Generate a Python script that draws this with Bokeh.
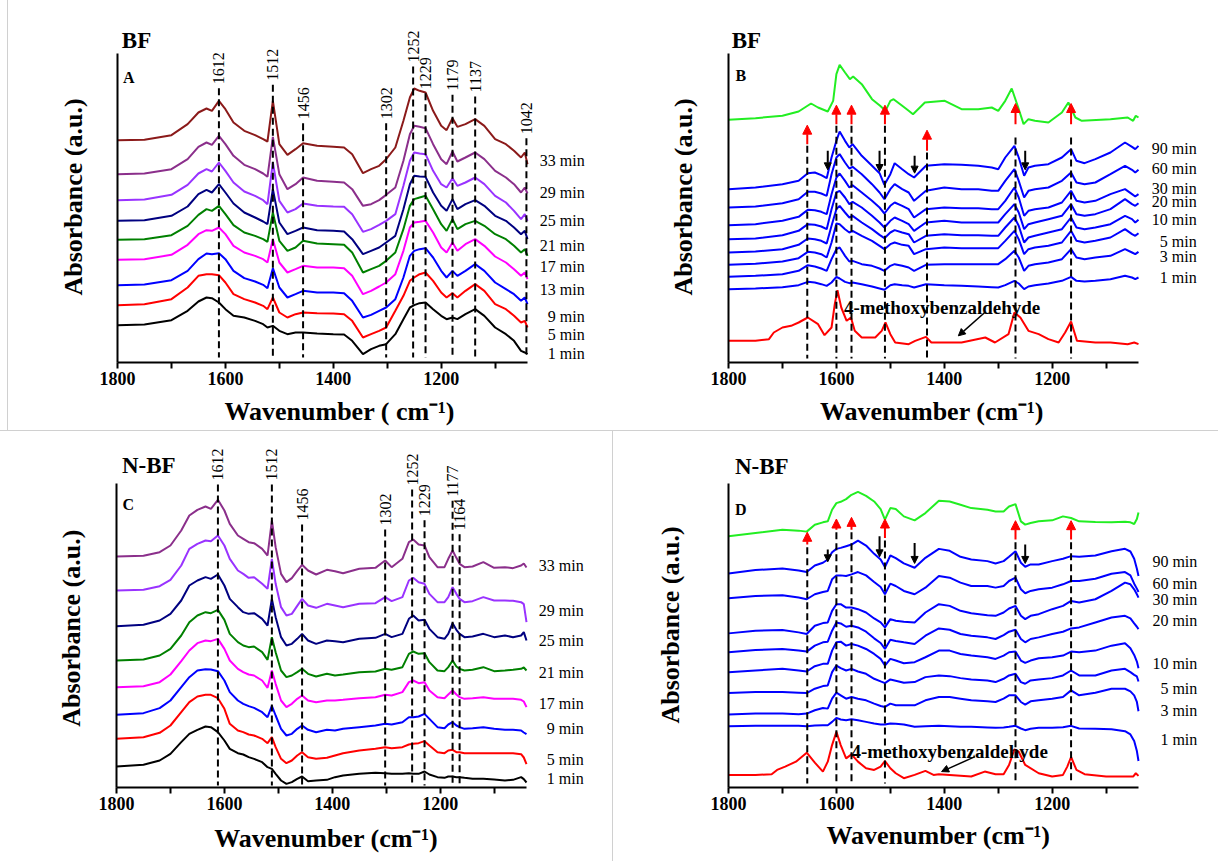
from bokeh.plotting import figure
from bokeh.models import Range1d, FixedTicker, Label, Arrow, NormalHead, Div
from bokeh.layouts import column, row
from bokeh.embed import file_html
from bokeh.resources import INLINE

FONT = "Liberation Serif"
NB = "\u00a0"

# ----------------------------------------------------------------- data
# Panel A (BF, 1-33 min)
A_WN = [1800, 1750, 1700, 1670, 1650, 1635, 1625, 1612, 1600, 1585,
        1565, 1545, 1530, 1522, 1512, 1500, 1485, 1470, 1456, 1430,
        1400, 1380, 1365, 1345, 1330, 1315, 1302, 1285, 1270, 1258,
        1250, 1240, 1229, 1215, 1200, 1190, 1179, 1170, 1155, 1137,
        1120, 1100, 1080, 1065, 1052, 1045, 1040]
A_33 = [667, 668, 682, 715, 750, 762, 755, 785, 760, 720,
        695, 682, 670, 663, 785, 655, 623, 640, 658, 650,
        647, 645, 625, 568, 580, 590, 610, 645, 725, 795,
        822, 815, 810, 755, 710, 697, 733, 707, 715, 730,
        710, 670, 655, 635, 615, 630, 595]
A_29 = [565, 567, 580, 610, 647, 660, 653, 680, 655, 620,
        593, 580, 567, 557, 677, 565, 520, 535, 555, 545,
        542, 540, 520, 470, 475, 487, 503, 525, 605, 685,
        710, 707, 703, 655, 610, 595, 633, 603, 615, 630,
        610, 575, 555, 535, 510, 525, 507]
A_25 = [487, 489, 503, 533, 567, 580, 573, 600, 575, 540,
        513, 500, 487, 475, 600, 485, 450, 460, 477, 470,
        468, 467, 445, 392, 400, 413, 425, 445, 530, 605,
        630, 627, 625, 575, 535, 525, 553, 530, 540, 555,
        535, 500, 480, 455, 430, 445, 425]
A_21 = [425, 427, 440, 468, 505, 518, 510, 535, 510, 477,
        450, 435, 423, 415, 520, 420, 385, 395, 405, 397,
        395, 393, 370, 325, 335, 345, 360, 380, 460, 535,
        560, 558, 557, 510, 470, 455, 490, 460, 475, 487,
        470, 440, 425, 405, 385, 395, 370]
A_17 = [368, 370, 382, 410, 443, 460, 455, 470, 445, 412,
        390, 380, 370, 362, 450, 365, 335, 345, 365, 357,
        355, 353, 330, 270, 280, 290, 305, 330, 400, 470,
        490, 495, 500, 460, 415, 395, 430, 400, 415, 425,
        410, 385, 370, 350, 330, 340, 320]
A_13 = [308, 310, 323, 353, 385, 397, 395, 405, 385, 350,
        330, 320, 310, 300, 370, 300, 270, 280, 290, 285,
        285, 283, 260, 205, 215, 228, 240, 265, 335, 405,
        420, 422, 425, 390, 345, 330, 360, 335, 355, 370,
        350, 318, 300, 280, 260, 270, 250]
A_9 = [232, 234, 247, 275, 310, 327, 325, 328, 310, 275,
       253, 243, 233, 223, 283, 225, 195, 205, 215, 210,
       210, 208, 185, 135, 143, 155, 165, 190, 255, 320,
       335, 340, 343, 315, 275, 255, 275, 260, 275, 295,
       275, 240, 220, 205, 185, 195, 175]
A_5 = [172, 175, 190, 225, 260, 265, 265, 262, 240, 205,
       190, 180, 170, 160, 195, 150, 135, 145, 150, 148,
       147, 145, 125, 75, 85, 95, 105, 155, 200, 245,
       255, 265, 270, 245, 210, 195, 208, 195, 215, 235,
       215, 175, 160, 140, 120, 125, 105]
A_1 = [112, 114, 127, 155, 183, 195, 193, 180, 160, 140,
       135, 125, 115, 105, 110, 95, 85, 90, 90, 87,
       85, 84, 65, 25, 40, 50, 55, 85, 130, 165,
       172, 178, 180, 160, 140, 130, 135, 130, 145, 160,
       140, 105, 85, 65, 35, 30, 25]
A_TIMES = ["1 min", "5 min", "9 min", "13 min", "17 min", "21 min", "25 min", "29 min", "33 min"]
A_PEAKS = [1612, 1512, 1456, 1302, 1252, 1229, 1179, 1137, 1042]

# Panel B (BF, adsorbed species vs time)
B_WN = [1800, 1750, 1700, 1670, 1653, 1640, 1628, 1618, 1609, 1600,
        1594, 1584, 1576, 1570, 1553, 1534, 1520, 1511, 1500, 1492,
        1478, 1466, 1456, 1434, 1400, 1368, 1337, 1312, 1300, 1287,
        1270, 1262, 1252, 1244, 1232, 1207, 1182, 1165, 1155, 1140,
        1120, 1092, 1065, 1052, 1046, 1040]
B_90 = [520, 525, 535, 545, 568, 570, 562, 553, 615, 665,
        693, 665, 645, 655, 620, 590, 568, 533, 565, 598,
        580, 565, 555, 590, 595, 593, 590, 585, 580, 615,
        650, 615, 560, 585, 590, 595, 615, 640, 605, 598,
        610, 630, 660, 647, 640, 650]
B_60 = [465, 468, 478, 490, 512, 512, 507, 500, 565, 615,
        625, 600, 582, 587, 565, 535, 510, 490, 520, 535,
        520, 510, 485, 515, 525, 520, 520, 515, 515, 545,
        580, 545, 495, 515, 520, 525, 545, 570, 540, 535,
        540, 565, 590, 578, 570, 578]
B_30 = [412, 415, 425, 437, 458, 457, 452, 445, 505, 555,
        567, 545, 525, 532, 510, 485, 465, 447, 470, 480,
        470, 460, 435, 460, 465, 463, 463, 460, 460, 485,
        525, 495, 440, 455, 460, 465, 480, 515, 485, 480,
        485, 505, 520, 505, 498, 505]
B_20 = [370, 372, 382, 395, 415, 413, 408, 400, 460, 510,
        515, 495, 475, 482, 465, 440, 420, 405, 425, 435,
        425, 415, 395, 420, 425, 420, 420, 420, 420, 445,
        475, 450, 400, 415, 420, 430, 440, 475, 445, 440,
        445, 460, 490, 475, 470, 478]
B_10 = [330, 333, 340, 353, 372, 370, 365, 357, 410, 460,
        470, 450, 435, 440, 420, 400, 383, 373, 390, 397,
        390, 385, 360, 380, 385, 382, 382, 380, 380, 405,
        435, 410, 360, 375, 380, 390, 400, 435, 405, 400,
        405, 415, 440, 430, 420, 428]
B_5 = [293, 296, 303, 313, 332, 330, 325, 315, 360, 417,
       415, 400, 390, 395, 380, 365, 350, 340, 355, 360,
       353, 350, 325, 340, 345, 343, 343, 343, 343, 365,
       395, 370, 325, 340, 345, 350, 360, 395, 365, 360,
       365, 375, 400, 385, 380, 388]
B_3 = [257, 260, 265, 275, 292, 288, 282, 275, 310, 340,
       345, 320, 303, 305, 295, 290, 282, 275, 290, 295,
       290, 285, 275, 293, 295, 295, 295, 295, 295, 310,
       335, 315, 275, 290, 295, 300, 310, 340, 315, 310,
       315, 320, 340, 330, 325, 332]
B_1 = [220, 222, 226, 232, 242, 240, 235, 230, 240, 257,
       252, 242, 238, 240, 235, 228, 222, 218, 232, 235,
       232, 230, 225, 235, 232, 230, 228, 226, 225, 232,
       245, 237, 220, 228, 232, 237, 245, 257, 245, 243,
       245, 250, 260, 255, 250, 255]
B_TOP_WN = [1800, 1750, 1700, 1670, 1647, 1634, 1616, 1606, 1600, 1594,
            1584, 1575, 1569, 1553, 1534, 1519, 1509, 1500, 1494, 1478,
            1466, 1458, 1436, 1399, 1368, 1337, 1312, 1300, 1287, 1275,
            1263, 1253, 1244, 1232, 1207, 1182, 1170, 1157, 1145, 1092,
            1060, 1050, 1045, 1040]
B_TOP = [728, 733, 740, 753, 777, 765, 753, 785, 865, 893,
         870, 850, 858, 835, 790, 770, 755, 785, 790, 770,
         755, 745, 780, 785, 760, 760, 765, 755, 785, 822,
         765, 715, 730, 725, 720, 750, 780, 735, 725, 730,
         735, 725, 740, 735]
B_REF_WN = [1800, 1750, 1725, 1716, 1700, 1684, 1670, 1653, 1634, 1622,
            1609, 1603, 1598, 1591, 1581, 1573, 1566, 1553, 1528, 1516,
            1509, 1500, 1491, 1466, 1454, 1434, 1424, 1399, 1368, 1324,
            1306, 1281, 1270, 1259, 1244, 1225, 1207, 1188, 1176, 1165,
            1154, 1120, 1092, 1060, 1048, 1040]
B_REF = [65, 65, 70, 90, 105, 110, 120, 135, 115, 82,
         105, 175, 217, 165, 125, 135, 95, 75, 75, 95,
         120, 85, 60, 55, 65, 77, 60, 60, 60, 75,
         60, 85, 150, 135, 95, 85, 70, 60, 90, 123,
         65, 60, 60, 55, 60, 55]
B_TIMES = ["1 min", "3 min", "5 min", "10 min", "20 min", "30 min", "60 min", "90 min"]
B_LINES = [1654, 1600, 1572, 1510, 1432, 1268, 1165]
B_UP = [1654, 1600, 1572, 1510, 1432, 1268, 1165]
B_DOWN = [1616, 1520, 1455, 1250]

# Panel C (N-BF, 1-33 min)
C_WN = [1800, 1750, 1720, 1700, 1680, 1665, 1650, 1635, 1625, 1612,
        1600, 1590, 1575, 1565, 1555, 1545, 1530, 1520, 1512, 1505,
        1495, 1485, 1475, 1465, 1456, 1445, 1430, 1410, 1395, 1380,
        1350, 1320, 1302, 1290, 1270, 1258, 1250, 1240, 1229, 1220,
        1205, 1192, 1185, 1177, 1170, 1164, 1155, 1140, 1120, 1100,
        1080, 1065, 1050, 1045, 1040]
C_33 = [693, 695, 706, 726, 771, 816, 833, 843, 836, 863,
        831, 791, 756, 746, 736, 733, 716, 696, 801, 721,
        641, 616, 628, 650, 668, 651, 639, 653, 649, 643,
        656, 659, 681, 661, 686, 736, 744, 729, 726, 691,
        661, 661, 686, 711, 689, 671, 661, 663, 676, 659,
        661, 658, 666, 672, 660]
C_29 = [591, 593, 604, 623, 666, 716, 731, 741, 739, 756,
        726, 686, 651, 641, 629, 631, 611, 596, 686, 611,
        541, 516, 521, 545, 566, 546, 539, 551, 546, 541,
        551, 553, 571, 559, 571, 621, 629, 616, 611, 581,
        556, 556, 571, 601, 581, 566, 556, 559, 571, 561,
        561, 560, 556, 550, 496]
C_25 = [484, 488, 501, 521, 561, 606, 621, 631, 626, 639,
        606, 566, 541, 526, 521, 523, 506, 486, 566, 511,
        451, 426, 431, 446, 461, 441, 431, 441, 439, 436,
        446, 449, 461, 451, 461, 506, 516, 501, 503, 476,
        451, 446, 461, 493, 473, 461, 451, 453, 461, 451,
        456, 451, 456, 466, 441]
C_21 = [381, 384, 396, 416, 456, 496, 516, 526, 523, 533,
        503, 461, 436, 426, 421, 423, 406, 383, 451, 406,
        351, 331, 336, 346, 356, 341, 333, 341, 336, 339,
        346, 348, 356, 353, 361, 401, 408, 401, 403, 376,
        351, 349, 361, 381, 363, 356, 351, 353, 361, 349,
        351, 353, 356, 360, 351]
C_17 = [301, 304, 316, 339, 379, 411, 433, 441, 439, 446,
        416, 381, 356, 346, 339, 336, 321, 299, 351, 311,
        261, 241, 251, 266, 276, 261, 256, 261, 261, 263,
        268, 271, 278, 276, 286, 316, 321, 313, 316, 291,
        271, 268, 279, 291, 279, 271, 266, 268, 271, 266,
        266, 266, 263, 258, 241]
C_9 = [218, 223, 238, 261, 301, 331, 351, 355, 354, 349,
       321, 286, 261, 251, 244, 239, 226, 211, 245, 216,
       176, 156, 161, 176, 186, 173, 166, 173, 171, 176,
       181, 186, 191, 189, 196, 211, 211, 213, 221, 206,
       181, 178, 189, 196, 186, 181, 176, 178, 181, 176,
       173, 173, 171, 165, 160]
C_5 = [146, 151, 164, 186, 226, 256, 273, 278, 278, 268,
       236, 191, 171, 166, 159, 156, 146, 133, 151, 121,
       86, 73, 81, 96, 106, 91, 86, 89, 96, 103,
       111, 116, 121, 118, 121, 129, 131, 133, 139, 126,
       106, 103, 111, 113, 106, 106, 103, 103, 103, 103,
       103, 103, 100, 90, 70]
C_1 = [63, 68, 81, 101, 136, 161, 173, 183, 181, 166,
       141, 116, 103, 99, 91, 86, 76, 61, 56, 41,
       21, 11, 16, 26, 33, 19, 21, 23, 31, 36,
       41, 44, 43, 41, 41, 43, 41, 41, 48, 39,
       31, 29, 33, 33, 31, 31, 29, 26, 26, 24,
       21, 23, 31, 25, 15]
C_TIMES = ["1 min", "5 min", "9 min", "17 min", "21 min", "25 min", "29 min", "33 min"]
C_PEAKS = [1612, 1512, 1456, 1302, 1252, 1229, 1177, 1164]

# Panel D (N-BF, adsorbed species vs time)
D_WN = [1800, 1750, 1700, 1670, 1655, 1640, 1625, 1616, 1608, 1600,
        1592, 1582, 1572, 1560, 1545, 1530, 1518, 1510, 1500, 1490,
        1475, 1455, 1435, 1410, 1390, 1370, 1350, 1320, 1305, 1290,
        1280, 1268, 1258, 1250, 1240, 1225, 1200, 1180, 1165, 1150,
        1120, 1090, 1065, 1055, 1048, 1043, 1040]
D_TOP = [758, 768, 778, 775, 772, 793, 800, 803, 838, 858,
         862, 870, 883, 892, 880, 863, 840, 808, 843, 840,
         818, 806, 828, 865, 863, 853, 843, 838, 833, 833,
         848, 855, 803, 793, 798, 803, 806, 818, 813, 803,
         801, 800, 802, 800, 795, 810, 830]
D_90 = [646, 656, 661, 655, 650, 670, 678, 688, 710, 720,
        723, 728, 733, 745, 730, 705, 688, 665, 700, 692,
        676, 663, 693, 720, 714, 696, 688, 683, 676, 683,
        696, 713, 678, 666, 673, 673, 683, 690, 698, 696,
        700, 713, 720, 712, 690, 660, 638]
D_60 = [571, 578, 580, 573, 568, 583, 590, 593, 628, 640,
        640, 638, 643, 650, 640, 620, 605, 583, 615, 608,
        593, 583, 603, 638, 633, 618, 608, 608, 603, 608,
        623, 633, 598, 586, 593, 598, 603, 613, 623, 623,
        630, 645, 650, 640, 615, 600, 590]
D_30 = [465, 473, 475, 468, 463, 488, 496, 498, 533, 553,
        553, 543, 543, 538, 528, 510, 498, 483, 508, 503,
        500, 498, 528, 553, 548, 533, 526, 520, 518, 528,
        540, 548, 518, 508, 518, 523, 538, 548, 563, 558,
        568, 593, 618, 613, 598, 583, 573]
D_20 = [408, 415, 418, 413, 410, 428, 438, 440, 473, 498,
        495, 485, 488, 483, 470, 450, 436, 418, 446, 442,
        438, 433, 458, 480, 476, 463, 458, 453, 448, 460,
        470, 476, 448, 438, 448, 453, 463, 470, 480, 483,
        498, 513, 518, 510, 495, 485, 478]
D_10 = [348, 353, 358, 353, 350, 366, 373, 373, 413, 438,
        440, 428, 433, 428, 418, 403, 388, 368, 388, 383,
        375, 378, 393, 413, 413, 403, 398, 393, 388, 398,
        408, 410, 383, 376, 383, 390, 393, 398, 410, 408,
        413, 428, 435, 420, 400, 380, 360]
D_5 = [285, 288, 288, 286, 285, 298, 306, 308, 348, 368,
       360, 353, 358, 350, 343, 328, 320, 315, 326, 322,
       316, 318, 333, 338, 336, 330, 326, 323, 318, 328,
       338, 343, 318, 313, 323, 326, 330, 338, 353, 338,
       338, 353, 358, 348, 340, 335, 320]
D_3 = [220, 223, 223, 221, 223, 233, 240, 238, 268, 286,
       278, 268, 273, 268, 263, 253, 246, 243, 253, 248,
       248, 248, 263, 273, 273, 268, 263, 260, 258, 268,
       278, 278, 258, 250, 260, 263, 268, 273, 293, 278,
       286, 298, 298, 290, 278, 258, 230]
D_1 = [185, 186, 186, 186, 185, 187, 188, 188, 198, 210,
       205, 203, 206, 203, 198, 193, 190, 190, 193, 192,
       190, 183, 185, 186, 185, 183, 183, 181, 180, 181,
       183, 186, 178, 173, 177, 180, 180, 182, 186, 178,
       177, 176, 170, 160, 140, 110, 80]
D_REF_WN = [1800, 1750, 1720, 1710, 1695, 1675, 1655, 1640, 1625, 1616,
            1608, 1600, 1592, 1582, 1572, 1560, 1545, 1530, 1518, 1510,
            1500, 1490, 1475, 1455, 1435, 1420, 1410, 1390, 1350, 1325,
            1305, 1290, 1280, 1270, 1262, 1250, 1225, 1200, 1180, 1172,
            1165, 1155, 1140, 1100, 1070, 1050, 1045, 1040]
D_REF = [38, 38, 40, 53, 63, 78, 105, 75, 48, 78,
         128, 168, 128, 88, 100, 78, 58, 53, 63, 80,
         58, 43, 28, 38, 50, 38, 40, 38, 33, 48,
         40, 40, 68, 115, 108, 68, 43, 33, 38, 63,
         92, 53, 40, 33, 33, 33, 43, 35]
D_TIMES = ["1 min", "3 min", "5 min", "10 min", "20 min", "30 min", "60 min", "90 min"]
D_LINES = [1654, 1600, 1572, 1510, 1268, 1165]
D_UP = [1654, 1600, 1572, 1510, 1268, 1165]
D_DOWN = [1616, 1520, 1455, 1250]

# ----------------------------------------------------------------- helpers
PX_PER_WN = 410 / 760.0


def panel(width, height, left, bottom, axis_top, xlab, xlab_off, ylab, ylab_off):
    right, top = 5, 5
    x_end = 1800 - (width - left - right) / PX_PER_WN
    ymax = 3 * (height - top - bottom)
    p = figure(width=width, height=height, x_range=Range1d(1800, x_end),
               y_range=Range1d(0, ymax), output_backend="svg",
               toolbar_location=None, min_border_left=left,
               min_border_right=right, min_border_top=top,
               min_border_bottom=bottom)
    p.outline_line_color = None
    p.xgrid.visible = False
    p.ygrid.visible = False
    p.background_fill_color = "white"
    p.border_fill_color = "white"
    xa = p.xaxis[0]
    xa.bounds = (1040, 1800)
    xa.ticker = FixedTicker(ticks=[1800, 1600, 1400, 1200],
                            minor_ticks=[1700, 1500, 1300, 1100])
    xa.axis_line_width = 2
    xa.axis_line_color = "black"
    xa.major_tick_line_width = 2
    xa.minor_tick_line_width = 2
    xa.major_tick_in = 0
    xa.major_tick_out = 6
    xa.minor_tick_in = 0
    xa.minor_tick_out = 6
    xa.major_label_text_font = FONT
    xa.major_label_text_font_style = "bold"
    xa.major_label_text_font_size = "18px"
    xa.major_label_text_color = "black"
    xa.major_label_standoff = 3
    xa.axis_label = xlab
    xa.axis_label_text_font = FONT
    xa.axis_label_text_font_style = "bold"
    xa.axis_label_text_font_size = "26px"
    xa.axis_label_text_color = "black"
    xa.axis_label_standoff = xlab_off
    ya = p.yaxis[0]
    ya.bounds = (0, axis_top)
    ya.ticker = FixedTicker(ticks=[])
    ya.axis_line_width = 2
    ya.axis_line_color = "black"
    ya.major_tick_out = 0
    ya.major_tick_in = 0
    ya.minor_tick_out = 0
    ya.minor_tick_in = 0
    ya.major_label_text_font_size = "0px"
    ya.axis_label = ylab
    ya.axis_label_text_font = FONT
    ya.axis_label_text_font_style = "bold"
    ya.axis_label_text_font_size = "26px"
    ya.axis_label_text_color = "black"
    ya.axis_label_standoff = ylab_off
    return p


def txt(p, x, y, s, size, bold=False, align="left", baseline="alphabetic", angle=0):
    p.add_layout(Label(x=x, y=y, text=s, text_font=FONT,
                       text_font_size=f"{size}px",
                       text_font_style="bold" if bold else "normal",
                       text_align=align, text_baseline=baseline,
                       angle=angle, angle_units="deg", text_color="black"))


def dashed(p, xs, tops, bottom):
    p.segment(x0=xs, y0=tops, x1=xs, y1=[bottom] * len(xs), line_color="black",
              line_width=2, line_dash="7 4")


def arrow(p, x0, y0, x1, y1, color, size=9, width=2):
    p.add_layout(Arrow(end=NormalHead(size=size, fill_color=color, line_color=color),
                       x_start=x0, y_start=y0, x_end=x1, y_end=y1,
                       line_color=color, line_width=width))


YLAB = "Absorbance (a.u.)"

# ----------------------------------------------------------------- panel A
pa = panel(604, 430, 109, 68, 927, "Wavenumber ( cm\u207b\u00b9)" + NB * 7, 9,
           YLAB + NB * 4, 30)
a_series = [A_1, A_5, A_9, A_13, A_17, A_21, A_25, A_29, A_33]
a_colors = ["#000000", "#ff0000", "#0000ff", "#ff00ff", "#008000",
            "#000080", "#9933ff", "#8b2f8b", "#8b1a1a"]
a_label_y = [27, 85, 137, 220, 288, 350, 425, 510, 607]
for ys, c in zip(a_series, a_colors):
    pa.line(A_WN, ys, line_color=c, line_width=2)
a_peak_y = [835, 845, 730, 730, 900, 820, 815, 810, 685]
dashed(pa, A_PEAKS, [v - 12 for v in a_peak_y], 15)
for wn, yv in zip(A_PEAKS, a_peak_y):
    txt(pa, wn, yv, str(wn), 16, align="left", baseline="middle", angle=90)
for t, yv in zip(A_TIMES, a_label_y):
    txt(pa, 934, yv, t, 16, align="right", baseline="middle")
txt(pa, 1792, 966, "BF", 23, bold=True)
txt(pa, 1790, 855, "A", 16, bold=True)

# ----------------------------------------------------------------- panel B
pb = panel(606, 430, 116, 68, 927, "Wavenumber (cm\u207b\u00b9)" + NB * 12, 9,
           YLAB + NB * 4, 31)
b_series = [B_1, B_3, B_5, B_10, B_20, B_30, B_60, B_90]
b_label_y = [255, 318, 363, 428, 482, 523, 583, 642]
pb.line(B_REF_WN, B_REF, line_color="#ff0000", line_width=2)
for ys in b_series:
    pb.line(B_WN, ys, line_color="#0000ff", line_width=2)
pb.line(B_TOP_WN, B_TOP, line_color="#22ee22", line_width=2)
b_line_top = [650, 710, 710, 710, 630, 675, 675]
dashed(pb, B_LINES, b_line_top, 12)
b_up = [(655, 712), (715, 772), (715, 772), (715, 772), (635, 697), (715, 777), (715, 777)]
for wn, (y0, y1) in zip(B_UP, b_up):
    arrow(pb, wn, y0, wn, y1, "#ff0000")
b_down = [(635, 578), (635, 573), (620, 568), (635, 578)]
for wn, (y0, y1) in zip(B_DOWN, b_down):
    arrow(pb, wn, y0, wn, y1, "#000000", size=7)
for t, yv in zip(B_TIMES, b_label_y):
    txt(pb, 932, yv, t, 16, align="right", baseline="middle")
txt(pb, 1586, 165, "4-methoxybenzaldehyde", 19, bold=True)
arrow(pb, 1325, 150, 1374, 80, "#000000", size=7, width=1.5)
txt(pb, 1794, 966, "BF", 23, bold=True)
txt(pb, 1787, 860, "B", 16, bold=True)

# ----------------------------------------------------------------- panel C
pc = panel(612, 430, 116, 74, 912, "Wavenumber (cm\u207b\u00b9)" + NB * 11, 11,
           YLAB + NB * 5, 31)
c_series = [C_1, C_5, C_9, C_17, C_21, C_25, C_29, C_33]
c_colors = ["#000000", "#ff0000", "#0000ff", "#ff00ff", "#008000",
            "#000080", "#9933ff", "#8b2f8b"]
c_label_y = [26, 83, 178, 253, 344, 441, 531, 666]
for ys, c in zip(c_series, c_colors):
    pc.line(C_WN, ys, line_color=c, line_width=2)
c_peak_y = [921, 921, 801, 786, 906, 814, 872, 772]
dashed(pc, C_PEAKS, [v - 12 for v in c_peak_y], 6)
for wn, yv in zip(C_PEAKS, c_peak_y):
    txt(pc, wn, yv, str(wn), 16, align="left", baseline="middle", angle=90)
for t, yv in zip(C_TIMES, c_label_y):
    txt(pc, 934, yv, t, 16, align="right", baseline="middle")
txt(pc, 1790, 966, "N-BF", 23, bold=True)
txt(pc, 1789, 849, "C", 16, bold=True)

# ----------------------------------------------------------------- panel D
pd = panel(605, 430, 115, 72, 918, "Wavenumber (cm\u207b\u00b9)" + NB * 10, 8,
           YLAB + NB * 4, 44)
d_series = [D_1, D_3, D_5, D_10, D_20, D_30, D_60, D_90]
d_label_y = [146, 231, 300, 373, 505, 568, 615, 681]
pd.line(D_REF_WN, D_REF, line_color="#ff0000", line_width=2)
for ys in d_series:
    pd.line(D_WN, ys, line_color="#0000ff", line_width=2)
pd.line(D_WN, D_TOP, line_color="#22ee22", line_width=2)
d_up = [(733, 770), (778, 810), (778, 815), (753, 810), (748, 805), (748, 805)]
dashed(pd, D_LINES, [v[0] - 8 for v in d_up], 12)
for wn, (y0, y1) in zip(D_UP, d_up):
    arrow(pd, wn, y0, wn, y1, "#ff0000")
d_down = [(718, 681), (758, 696), (738, 676), (733, 676)]
for wn, (y0, y1) in zip(D_DOWN, d_down):
    arrow(pd, wn, y0, wn, y1, "#000000", size=7)
for t, yv in zip(D_TIMES, d_label_y):
    txt(pd, 931, yv, t, 16, align="right", baseline="middle")
txt(pd, 1572, 108, "4-methoxybenzaldehyde", 19, bold=True)
arrow(pd, 1343, 93, 1405, 48, "#000000", size=7, width=1.5)
txt(pd, 1788, 968, "N-BF", 23, bold=True)
txt(pd, 1788, 840, "D", 16, bold=True)

# ----------------------------------------------------------------- layout
def box(w, h, color):
    return Div(text="", width=w, height=h, margin=0,
               styles={"background-color": color})

layout = column(
    row(box(7, 430, "white"), box(1, 430, "#d0d0d0"), pa, pb),
    box(1218, 1, "#d0d0d0"),
    row(pc, box(1, 430, "#d0d0d0"), pd),
)

open("out.html", "w").write(file_html(layout, INLINE))
